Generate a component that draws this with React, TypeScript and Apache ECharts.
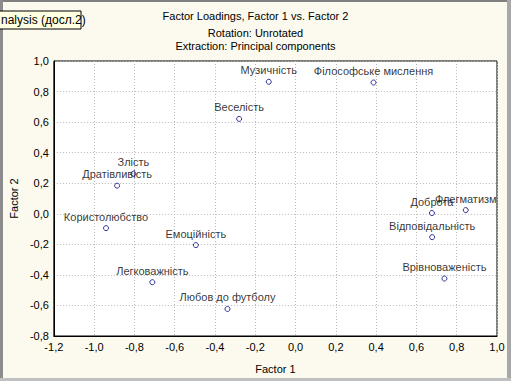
import React, { useEffect, useRef } from "react";
import * as echarts from "echarts";

const names = [
  "Музичність",
  "Філософське мислення",
  "Веселість",
  "Злість",
  "Дратівливість",
  "Користолюбство",
  "Емоційність",
  "Легковажність",
  "Любов до футболу",
  "Доброта",
  "Флегматизм",
  "Відповідальність",
  "Врівноваженість",
];
const factor1 = [-0.133, 0.387, -0.28, -0.805, -0.886, -0.941, -0.495, -0.711, -0.338, 0.677, 0.845, 0.678, 0.739];
const factor2 = [0.864, 0.859, 0.621, 0.262, 0.184, -0.094, -0.205, -0.448, -0.623, 0.005, 0.024, -0.153, -0.424];

const titleLines = [
  "Factor Loadings, Factor 1 vs. Factor 2",
  "Rotation: Unrotated",
  "Extraction: Principal components",
];
const xAxisName = "Factor 1";
const yAxisName = "Factor 2";
const tooltipText = "nalysis (досл.2)";

const FONT = "'Liberation Sans', Arial, sans-serif";

function fmt(v: number) {
  if (Math.abs(v) < 1e-9) v = 0;
  return v.toFixed(1).replace(".", ",");
}

export default function App() {
  const ref = useRef<HTMLDivElement>(null);
  useEffect(() => {
    if (!ref.current) return;
    const chart = echarts.init(ref.current, undefined, { renderer: "svg" });
    const data = names.map((n, i) => ({ name: n, value: [factor1[i], factor2[i]] }));
    const tStyle = { fontSize: 11, fontWeight: "normal", color: "#000", fontFamily: FONT };
    chart.setOption({
      animation: false,
      backgroundColor: "#fcfaee",
      textStyle: { fontFamily: FONT },
      title: [
        { text: titleLines[0], left: "center", top: 5, textStyle: tStyle },
        { text: titleLines[1], left: "center", top: 22, textStyle: tStyle },
        { text: titleLines[2], left: "center", top: 35, textStyle: tStyle },
      ],
      grid: {
        left: 53,
        top: 61,
        right: 14,
        bottom: 45,
        show: true,
        backgroundColor: "#ffffff",
        borderColor: "#000",
        borderWidth: 1,
        containLabel: false,
      },
      xAxis: {
        type: "value",
        min: -1.2,
        max: 1.0,
        interval: 0.2,
        name: xAxisName,
        nameLocation: "middle",
        nameGap: 27,
        nameTextStyle: { fontSize: 11, color: "#000", fontFamily: FONT },
        axisLine: { show: true, onZero: false, lineStyle: { color: "#000" } },
        axisTick: { show: false },
        axisLabel: { formatter: fmt, fontSize: 11, color: "#000", margin: 5, fontFamily: FONT },
        splitLine: { show: true, lineStyle: { color: "#b8b8b8", type: [1, 2], width: 1 } },
      },
      yAxis: {
        type: "value",
        min: -0.8,
        max: 1.0,
        interval: 0.2,
        name: yAxisName,
        nameLocation: "middle",
        nameGap: 30,
        nameTextStyle: { fontSize: 11, color: "#000", fontFamily: FONT },
        axisLine: { show: true, onZero: false, lineStyle: { color: "#000" } },
        axisTick: { show: false },
        axisLabel: { formatter: fmt, fontSize: 11, color: "#000", margin: 5, fontFamily: FONT },
        splitLine: { show: true, lineStyle: { color: "#b8b8b8", type: [1, 2], width: 1 } },
      },
      series: [
        {
          type: "scatter",
          data,
          symbol: "circle",
          symbolSize: 5,
          itemStyle: { color: "#ffffff", borderColor: "#000080", borderWidth: 1 },
          label: {
            show: true,
            position: "top",
            distance: 3,
            formatter: (p: any) => p.name,
            fontSize: 11,
            color: "#000",
            fontFamily: FONT,
          },
          labelLayout: { hideOverlap: false },
        },
      ],
      graphic: [
        { type: "rect", shape: { x: 0, y: 0, width: 511, height: 2 }, style: { fill: "#808080" }, z: 100 },
        { type: "rect", shape: { x: 0, y: 0, width: 3, height: 381 }, style: { fill: "#8c8c8c" }, z: 100 },
        { type: "rect", shape: { x: 507, y: 0, width: 4, height: 381 }, style: { fill: "#a8a8a8" }, z: 100 },
        { type: "rect", shape: { x: 0, y: 378, width: 511, height: 3 }, style: { fill: "#c0c0c0" }, z: 100 },
        {
          type: "rect",
          shape: { x: -1, y: 11, width: 82, height: 18 },
          style: { fill: "#ffffe1", stroke: "#000", lineWidth: 1 },
          z: 101,
        },
        {
          type: "text",
          x: 1,
          y: 20,
          style: { text: tooltipText, fontSize: 12, fill: "#000", font: "12px " + FONT, verticalAlign: "middle" },
          z: 102,
        },
      ],
    });
    return () => chart.dispose();
  }, []);
  return <div ref={ref} style={{ position: "fixed", left: 0, top: 0, width: 511, height: 381 }} />;
}
